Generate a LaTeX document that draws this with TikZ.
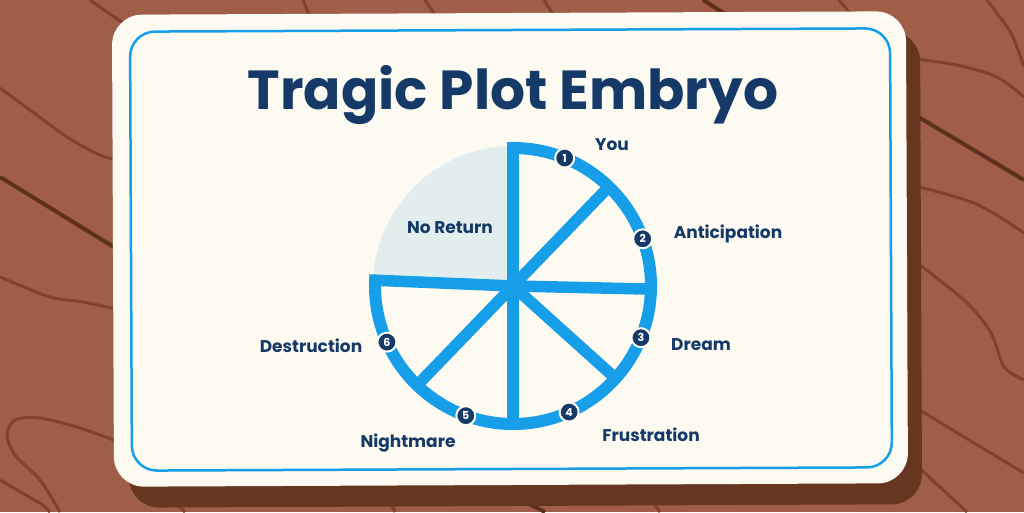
\documentclass[tikz,border=0pt]{standalone}
\usepackage{fontspec}
\setmainfont{Poppins}
\definecolor{woodbrown}{RGB}{160,93,72}
\definecolor{grainbrown}{RGB}{128,66,46}
\definecolor{darkgrain}{RGB}{96,48,30}
\definecolor{shadowbrown}{RGB}{103,54,32}
\definecolor{cardcream}{RGB}{253,250,241}
\definecolor{wheelblue}{RGB}{22,158,232}
\definecolor{inknavy}{RGB}{21,58,104}
\definecolor{returngrey}{RGB}{226,237,238}
\usepackage{tikz}
\usetikzlibrary{calc}

\begin{document}
\begin{tikzpicture}[x=1pt,y=1pt,
    grain/.style={grainbrown,line width=3pt},
    deepgrain/.style={darkgrain,line width=4pt},
    ring/.style={wheelblue,line width=12pt},
    spoke/.style={wheelblue,line width=11.5pt},
    marker/.style={circle,fill=inknavy,draw=cardcream,line width=2pt,minimum size=19pt,inner sep=0pt,text=white,font=\bfseries\fontsize{11}{11}\selectfont},
    stage/.style={anchor=base,text=inknavy,font=\bfseries\fontsize{17}{17}\selectfont}]

    % Wood background
    \fill[woodbrown] (0,0) rectangle (1024,512);
    \useasboundingbox (0,0) rectangle (1024,512);

    % Grain, left side
    \draw[grain] plot[smooth] coordinates {(0,424) (30,402) (67,375) (100,357) (130,348)};
    \draw[deepgrain] (0,335) -- (130,255);
    \draw[grain] plot[smooth] coordinates {(0,235) (50,215) (83,210) (130,200)};
    \draw[grain] plot[smooth] coordinates {(130,66) (80,84) (40,94) (15,92) (7,77) (15,57) (40,32) (60,0)};
    \draw[grain] (0,32) -- (43,7) -- (50,0);
    \draw[grain] (90,512) -- (130,484);

    % Grain, top and bottom
    \draw[grain] (303,512) -- (312,490);
    \draw[grain] (425,512) -- (440,490);
    \draw[grain] (544,512) -- (558,490);
    \draw[deepgrain] (703,512) -- (738,490);
    \draw[grain] (839,512) -- (853,495);
    \draw[grain] (165,20) -- (185,0);
    \draw[grain] (385,20) -- (395,0);
    \draw[deepgrain] (495,25) -- (545,0);
    \draw[grain] (645,20) -- (660,0);

    % Grain, right side
    \draw[grain] plot[smooth] coordinates {(975,530) (987,512) (1011,479) (1024,445)};
    \draw[grain] plot[smooth] coordinates {(900,455) (957,447) (997,435) (1024,415)};
    \draw[deepgrain] (890,412) -- (1024,332);
    \draw[grain] plot[smooth] coordinates {(900,330) (974,309) (1024,279)};
    \draw[grain] plot[smooth] coordinates {(900,262) (964,212) (991,179) (1004,145) (1024,132)};
    \draw[grain] plot[smooth] coordinates {(900,114) (974,69) (1024,39)};
    \draw[grain] plot[smooth] coordinates {(900,62) (943,22) (967,0)};

    % Card with its shadow
    \begin{scope}[rotate around={0.25:(512,256)}]
        \fill[shadowbrown,rounded corners=30pt] (128,6) rectangle (921,479);
        \fill[cardcream,rounded corners=30pt] (113,27) rectangle (907,499);
        \draw[wheelblue,line width=2.5pt,rounded corners=25pt] (131,43) rectangle (891,482);
    \end{scope}

    % Title
    \node[anchor=base,text=inknavy,font=\bfseries\fontsize{55}{55}\selectfont] (title) at (513,402) {Tragic Plot Embryo};

    % Wheel
    \coordinate (hub) at (513,226);
    \fill[returngrey] (hub) -- ++(90:140) arc[start angle=90,end angle=178,radius=140] -- cycle;
    \node[stage] (noreturn) at (450,279) {No Return};
    \draw[ring] ($(hub)+(90:138)$) arc[start angle=90,end angle=-182,radius=138];

    % Spokes
    \coordinate (rimN) at ($(hub)+(90:144)$);
    \coordinate (rimNE) at ($(hub)+(46:138)$);
    \coordinate (rimE) at ($(hub)+(-1.3:138)$);
    \coordinate (rimSE) at ($(hub)+(-42:138)$);
    \coordinate (rimS) at ($(hub)+(-90:138)$);
    \coordinate (rimSW) at ($(hub)+(-134:138)$);
    \coordinate (rimW) at ($(hub)+(177.6:144)$);
    \draw[spoke] (hub) -- (rimN);
    \draw[spoke] (hub) -- (rimNE);
    \draw[spoke] (hub) -- (rimE);
    \draw[spoke] (hub) -- (rimSE);
    \draw[spoke] (hub) -- (rimS);
    \draw[spoke] (hub) -- (rimSW);
    \draw[spoke] (hub) -- (rimW);

    % Numbered stages
    \node[marker] (m1) at ($(hub)+(68:138)$) {1};
    \node[marker] (m2) at ($(hub)+(20:138)$) {2};
    \node[marker] (m3) at ($(hub)+(-22:138)$) {3};
    \node[marker] (m4) at ($(hub)+(-66:138)$) {4};
    \node[marker] (m5) at ($(hub)+(-110:138)$) {5};
    \node[marker] (m6) at ($(hub)+(-156:138)$) {6};

    \node[stage] (you) at (612,361) {You};
    \node[stage] (anticipation) at (728,273) {Anticipation};
    \node[stage] (dream) at (701,162) {Dream};
    \node[stage] (frustration) at (651,71) {Frustration};
    \node[stage] (nightmare) at (408,65) {Nightmare};
    \node[stage] (destruction) at (311,160) {Destruction};
\end{tikzpicture}
\end{document}
